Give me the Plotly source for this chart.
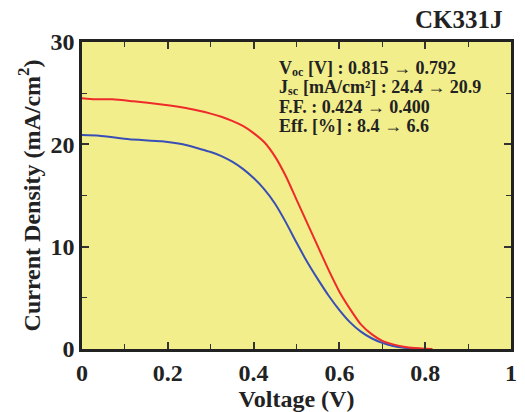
import plotly.graph_objects as go

v_red = [0.0, 0.03, 0.071, 0.12, 0.186, 0.235, 0.27, 0.30, 0.325, 0.35, 0.375, 0.40, 0.425, 0.45, 0.475, 0.50, 0.525, 0.55, 0.575, 0.60, 0.625, 0.65, 0.675, 0.70, 0.725, 0.75, 0.775, 0.80, 0.817]
j_red = [24.5, 24.4, 24.4, 24.2, 23.9, 23.6, 23.3, 23.0, 22.7, 22.3, 21.8, 21.1, 20.2, 18.8, 16.9, 14.6, 12.3, 10.0, 7.7, 5.6, 3.9, 2.4, 1.45, 0.8, 0.45, 0.22, 0.09, 0.03, 0.0]

v_blue = [0.0, 0.04, 0.11, 0.186, 0.235, 0.275, 0.30, 0.325, 0.35, 0.375, 0.40, 0.425, 0.45, 0.475, 0.50, 0.525, 0.55, 0.575, 0.60, 0.625, 0.65, 0.675, 0.70, 0.725, 0.75, 0.775, 0.796]
j_blue = [20.9, 20.85, 20.5, 20.3, 20.0, 19.55, 19.25, 18.85, 18.3, 17.6, 16.7, 15.6, 14.2, 12.4, 10.4, 8.5, 6.8, 5.2, 3.8, 2.6, 1.7, 1.05, 0.6, 0.3, 0.12, 0.04, 0.0]

x_ticks = [0, 0.2, 0.4, 0.6, 0.8, 1]
x_tick_labels = ["0", "0.2", "0.4", "0.6", "0.8", "1"]
y_ticks = [0, 10, 20, 30]
y_tick_labels = ["0", "10", "20", "30"]

# each stats line: (symbol, subscript, rest of text)
stats_symbols = ["V", "J", "", ""]
stats_subs = ["oc", "sc", "", ""]
stats_rest = ["[V] : 0.815 → 0.792",
              "[mA/cm²] : 24.4 → 20.9",
              "F.F. : 0.424 → 0.400",
              "Eff. [%] : 8.4 → 6.6"]
stats_y = [27.5, 25.65, 23.65, 21.8]

FONT = "Liberation Serif"
INK = "#222222"
SIZE = 18
SUB = 12
# approximate glyph advance widths (em) for Times-bold-metric font
ADV = {"V": 0.722, "J": 0.5, "o": 0.5, "c": 0.444, "s": 0.389}

fig = go.Figure()
fig.add_trace(go.Scatter(x=v_blue, y=j_blue, mode="lines", line=dict(color="#3A4FB5", width=2, shape="spline", smoothing=0.5), showlegend=False))
fig.add_trace(go.Scatter(x=v_red, y=j_red, mode="lines", line=dict(color="#EE2A2A", width=2, shape="spline", smoothing=0.5), showlegend=False))

axis_common = dict(
    showgrid=False, zeroline=False, showline=True, linecolor=INK, linewidth=2.5,
    mirror="allticks", ticks="inside", ticklen=7, tickwidth=1.5, tickcolor="#333333",
    tickfont=dict(family=FONT, size=24, color=INK, weight="bold"),
)

fig.update_xaxes(
    range=[0, 1], tickvals=x_ticks, ticktext=x_tick_labels,
    minor=dict(dtick=0.1, ticks="inside", ticklen=5, tickwidth=1.2, tickcolor="#333333"),
    title=dict(text="Voltage (V)", font=dict(family=FONT, size=24, color=INK, weight="bold"), standoff=2),
    **axis_common,
)
fig.update_yaxes(
    range=[0, 30], tickvals=y_ticks, ticktext=y_tick_labels,
    minor=dict(dtick=5, ticks="inside", ticklen=5, tickwidth=1.2, tickcolor="#333333"),
    title=dict(text="Current Density (mA/cm<sup>2</sup>)", font=dict(family=FONT, size=24, color=INK, weight="bold"), standoff=4),
    **axis_common,
)

X0 = 0.460
for sym, sub, rest, yv in zip(stats_symbols, stats_subs, stats_rest, stats_y):
    shift = 0.0
    if sym:
        fig.add_annotation(x=X0, y=yv, xref="x", yref="y", text=sym, showarrow=False,
                           xanchor="left", yanchor="middle", borderpad=0, borderwidth=0,
                           font=dict(family=FONT, size=SIZE, color=INK, weight="bold"))
        shift += sum(ADV[ch] for ch in sym) * SIZE
        fig.add_annotation(x=X0, y=yv, xref="x", yref="y", text=sub, showarrow=False,
                           xanchor="left", yanchor="middle", xshift=shift, yshift=-4,
                           borderpad=0, borderwidth=0,
                           font=dict(family=FONT, size=SUB, color=INK, weight="bold"))
        shift += sum(ADV[ch] for ch in sub) * SUB + 0.25 * SIZE
    fig.add_annotation(x=X0, y=yv, xref="x", yref="y", text=rest, showarrow=False,
                       xanchor="left", yanchor="middle", xshift=shift, borderpad=0, borderwidth=0,
                       font=dict(family=FONT, size=SIZE, color=INK, weight="bold"))

fig.add_annotation(x=0.985, y=1, xref="paper", yref="paper", yshift=7, text="CK331J",
                   showarrow=False, xanchor="right", yanchor="bottom",
                   font=dict(family=FONT, size=25, color=INK, weight="bold"))

fig.update_layout(
    width=525, height=412,
    margin=dict(l=82, r=8, t=42, b=60),
    paper_bgcolor="white", plot_bgcolor="#F2EE8C",
)
fig.write_html("out.html", config={"displayModeBar": False},
               post_script="document.body.style.margin='0';")
